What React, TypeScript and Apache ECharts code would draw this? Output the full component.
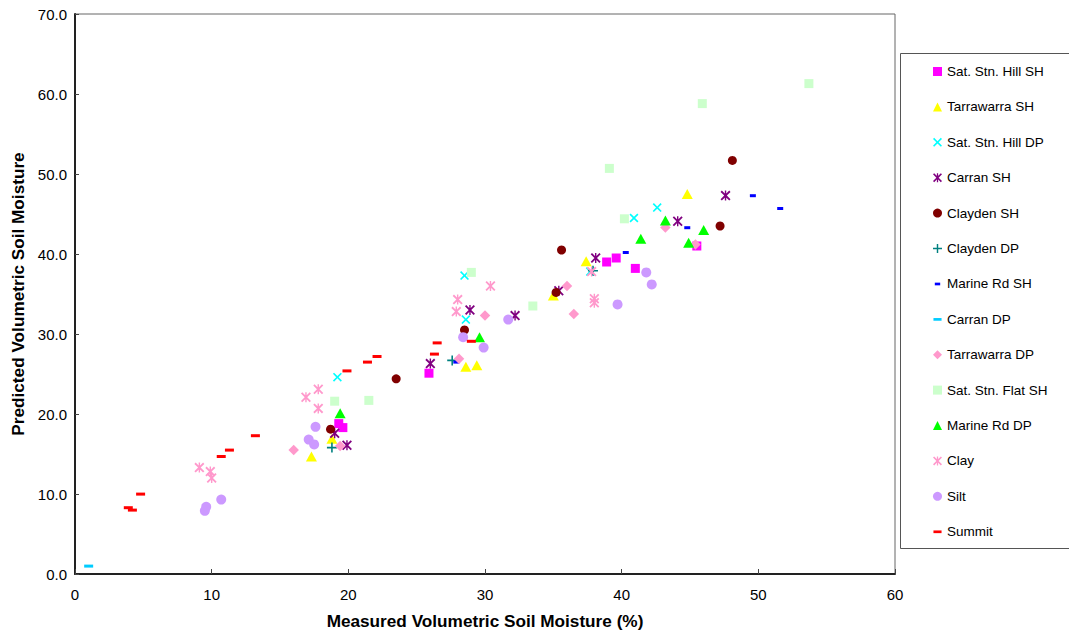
import React, { useEffect, useRef } from 'react';
import * as echarts from 'echarts';

// ---- Data (measured %, predicted) ----
const seriesNames = [
  'Sat. Stn. Hill SH', 'Tarrawarra SH', 'Sat. Stn. Hill DP', 'Carran SH', 'Clayden SH',
  'Clayden DP', 'Marine Rd SH', 'Carran DP', 'Tarrawarra DP', 'Sat. Stn. Flat SH',
  'Marine Rd DP', 'Clay', 'Silt', 'Summit',
];

const satStnHillSH = [[19.3, 18.8], [19.6, 18.3], [25.9, 25.1], [38.9, 39.0], [39.6, 39.5], [41.0, 38.2], [45.5, 41.0]];
const tarrawarraSH = [[17.3, 14.7], [18.8, 16.9], [28.6, 25.9], [29.4, 26.1], [35.0, 34.8], [37.4, 39.1], [44.8, 47.5]];
const satStnHillDP = [[19.2, 24.6], [28.5, 37.3], [28.6, 31.8], [37.7, 37.8], [40.9, 44.5], [42.6, 45.8]];
const carranSH = [[19.0, 17.6], [19.9, 16.1], [26.0, 26.3], [28.9, 33.0], [32.2, 32.3], [35.4, 35.4], [38.1, 39.5], [44.1, 44.1], [47.6, 47.3]];
const claydenSH = [[18.7, 18.1], [23.5, 24.4], [28.5, 30.5], [35.2, 35.2], [35.6, 40.5], [47.2, 43.5], [48.1, 51.7]];
const claydenDP = [[18.8, 15.8], [27.6, 26.7], [37.9, 37.9]];
const marineRdSH = [[27.9, 26.5], [40.3, 40.2], [44.8, 43.3], [49.6, 47.3], [51.6, 45.7]];
const carranDP = [[1.0, 1.0]];
const tarrawarraDP = [[16.0, 15.5], [19.4, 16.0], [28.1, 26.9], [30.0, 32.3], [36.0, 36.0], [36.5, 32.5], [43.2, 43.3], [45.4, 41.2]];
const satStnFlatSH = [[19.0, 21.6], [21.5, 21.7], [29.0, 37.7], [33.5, 33.5], [39.1, 50.7], [40.2, 44.4], [45.9, 58.8], [53.7, 61.3]];
const marineRdDP = [[19.4, 20.1], [29.6, 29.6], [41.4, 41.9], [43.2, 44.2], [44.9, 41.4], [46.0, 43.0]];
const clay = [[9.1, 13.3], [9.9, 12.8], [10.0, 12.0], [16.9, 22.1], [17.8, 23.1], [17.8, 20.7], [27.9, 32.8], [28.0, 34.3], [30.4, 36.0], [37.8, 37.8], [38.0, 34.4], [38.0, 33.9]];
const silt = [[9.5, 7.9], [9.6, 8.4], [10.7, 9.3], [17.1, 16.8], [17.5, 16.2], [17.6, 18.4], [28.4, 29.6], [29.9, 28.3], [31.7, 31.8], [39.7, 33.7], [41.8, 37.7], [42.2, 36.2]];
const summit = [[3.9, 8.3], [4.2, 8.0], [4.8, 10.0], [10.7, 14.7], [11.3, 15.5], [13.2, 17.3], [19.9, 25.4], [21.4, 26.5], [22.1, 27.2], [26.3, 27.5], [26.5, 28.9], [29.0, 29.1]];

const allData = [
  satStnHillSH, tarrawarraSH, satStnHillDP, carranSH, claydenSH, claydenDP, marineRdSH,
  carranDP, tarrawarraDP, satStnFlatSH, marineRdDP, clay, silt, summit,
];

// ---- Styles ----
const ANCHOR = 'M0,0L0,0M10,10L10,10';
const X_SHAPE = 'M0,1.3L1.3,0L5,3.7L8.7,0L10,1.3L6.3,5L10,8.7L8.7,10L5,6.3L1.3,10L0,8.7L3.7,5Z';
const STAR_SHAPE = X_SHAPE + 'M4.3,0L5.7,0L5.7,10L4.3,10Z';
const PLUS_SHAPE = 'M4.2,0L5.8,0L5.8,4.2L10,4.2L10,5.8L5.8,5.8L5.8,10L4.2,10L4.2,5.8L0,5.8L0,4.2L4.2,4.2Z';
const DASH_LONG = ANCHOR + 'M0.5,3.6L9.5,3.6L9.5,6.6L0.5,6.6Z';
const DASH_SHORT = ANCHOR + 'M2,3.6L8,3.6L8,6.6L2,6.6Z';

const colors = [
  '#FF00FF', '#FFFF00', '#00FFFF', '#800080', '#800000', '#008080', '#0000FF',
  '#00CCFF', '#FF99CC', '#CCFFCC', '#00FF00', '#FF99CC', '#CC99FF', '#FF0000',
];
const symbols = [
  'rect', 'triangle', 'path://' + X_SHAPE, 'path://' + STAR_SHAPE, 'circle', 'path://' + PLUS_SHAPE,
  'path://' + DASH_SHORT, 'path://' + DASH_LONG, 'diamond', 'rect', 'triangle',
  'path://' + STAR_SHAPE, 'circle', 'path://' + DASH_LONG,
];
const sizes: any[] = [9, [11, 10], 9, 10, 9, 10, 10, 10, 10.5, 9, [11, 10], 10, 10, 10];

const FONT = '"Liberation Sans", Arial, Helvetica, sans-serif';

export default function App() {
  const ref = useRef<HTMLDivElement>(null);
  useEffect(() => {
    if (!ref.current) return;
    const chart = echarts.init(ref.current, null, { renderer: 'svg' });
    const series = seriesNames.map((name, i) => ({
      name,
      type: 'scatter',
      data: allData[i],
      symbol: symbols[i],
      symbolSize: sizes[i],
      itemStyle: { color: colors[i], opacity: 1 },
      emphasis: { disabled: true },
    }));
    chart.setOption({
      animation: false,
      backgroundColor: '#ffffff',
      textStyle: { fontFamily: FONT },
      grid: {
        left: 75, top: 14, right: 174, bottom: 58,
        containLabel: false, outerBoundsMode: 'none',
        show: true, borderColor: '#666666', borderWidth: 1, backgroundColor: 'transparent',
      },
      xAxis: {
        type: 'value', min: 0, max: 60, interval: 10,
        name: 'Measured Volumetric Soil Moisture (%)',
        nameLocation: 'middle', nameGap: 38,
        nameTextStyle: { fontFamily: FONT, fontSize: 17.2, fontWeight: 'bold', color: '#000' },
        axisLine: { show: true, lineStyle: { color: '#222', width: 2 } },
        axisTick: { show: true, inside: true, length: 5, lineStyle: { color: '#444' } },
        axisLabel: { fontFamily: FONT, fontSize: 15, color: '#000', margin: 13 },
        splitLine: { show: false },
      },
      yAxis: {
        type: 'value', min: 0, max: 70, interval: 10,
        name: 'Predicted Volumetric Soil Moisture',
        nameLocation: 'middle', nameGap: 48,
        nameTextStyle: { fontFamily: FONT, fontSize: 17.2, fontWeight: 'bold', color: '#000' },
        axisLine: { show: true, lineStyle: { color: '#222', width: 2 } },
        axisTick: { show: true, inside: true, length: 4, lineStyle: { color: '#444' } },
        axisLabel: { fontFamily: FONT, fontSize: 15, color: '#000', margin: 8, formatter: (v: number) => v.toFixed(1) },
        splitLine: { show: false },
      },
      legend: {
        orient: 'vertical',
        left: 933, top: 64.5,
        itemWidth: 9, itemHeight: 9, itemGap: 21.4,
        padding: 0,
        selectedMode: false,
        textStyle: { fontFamily: FONT, fontSize: 13.5, color: '#000', lineHeight: 14 },
        data: seriesNames,
      },
      graphic: [
        {
          type: 'rect', silent: true, z: 0,
          shape: { x: 900.5, y: 53.5, width: 180, height: 495 },
          style: { fill: 'none', stroke: '#555555', lineWidth: 1 },
        },
      ],
      series,
    });
    return () => chart.dispose();
  }, []);
  return <div ref={ref} style={{ position: 'fixed', left: 0, top: 0, width: 1069, height: 632, background: '#fff' }} />;
}
